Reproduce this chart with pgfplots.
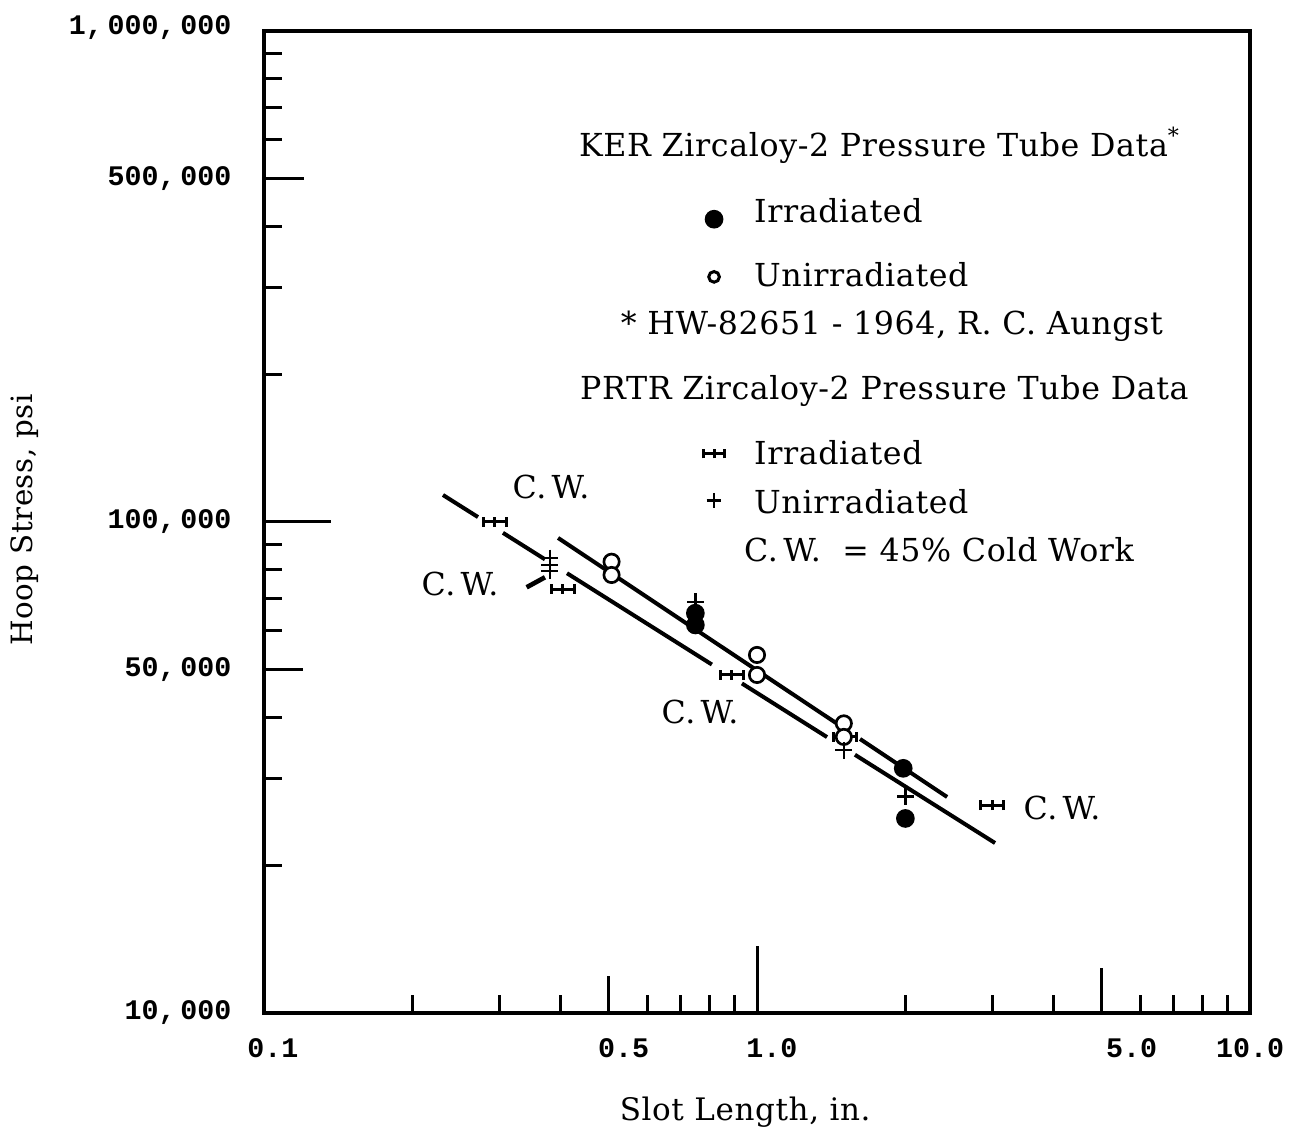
\documentclass[border=0pt]{standalone}
\usepackage{fontspec}
\setmainfont[LetterSpace=2]{DejaVu Serif}
\newfontfamily\tickfont{Liberation Mono}
\usepackage{pgfplots}
\pgfplotsset{compat=1.18}
\usetikzlibrary{calc}

% irradiated PRTR symbol: bar with three short ticks
\pgfdeclareplotmark{hh}{%
  \pgfpathmoveto{\pgfqpoint{-\pgfplotmarksize}{0pt}}%
  \pgfpathlineto{\pgfqpoint{\pgfplotmarksize}{0pt}}%
  \pgfpathmoveto{\pgfqpoint{-\pgfplotmarksize}{-0.42\pgfplotmarksize}}%
  \pgfpathlineto{\pgfqpoint{-\pgfplotmarksize}{0.42\pgfplotmarksize}}%
  \pgfpathmoveto{\pgfqpoint{0pt}{-0.42\pgfplotmarksize}}%
  \pgfpathlineto{\pgfqpoint{0pt}{0.42\pgfplotmarksize}}%
  \pgfpathmoveto{\pgfqpoint{\pgfplotmarksize}{-0.42\pgfplotmarksize}}%
  \pgfpathlineto{\pgfqpoint{\pgfplotmarksize}{0.42\pgfplotmarksize}}%
  \pgfusepathqstroke}

% legend key: one mark, shifted down by #2, that does not change the row size
\pgfplotsset{
  key/.style 2 args={legend image code/.code={%
    \pgfpathmoveto{\pgfpointorigin}%
    \pgfpathlineto{\pgfqpoint{0.6cm}{0pt}}%
    \pgfusepath{use as bounding box}%
    \draw[overlay, black, #1] plot coordinates {(0.3cm,#2)};}},
}
\newcommand\rs[1]{\rule{0pt}{#1}}

\begin{document}
\begin{tikzpicture}
\begin{axis}[
  scale only axis, width=295.8pt, height=294.6pt,
  xmode=log, ymode=log,
  xmin=0.1, xmax=10, ymin=1e4, ymax=1e6,
  clip=false,
  axis line style={line width=1.2pt},
  tick pos=left, tick align=inside,
  major tick length=0pt, minor tick length=5.5pt,
  every tick/.style={black, line width=0.9pt},
  xtick={0.1,0.5,1,5,10},
  xticklabels={\hspace*{5.4pt}0.1,\hspace*{9pt}0.5,\hspace*{9pt}1.0,\hspace*{18pt}5.0,10.0},
  minor xtick={0.2,0.3,0.4,0.6,0.7,0.8,0.9,2,3,4,6,7,8,9},
  ytick={1e4,5e4,1e5,5e5,1e6},
  yticklabels={{\raisebox{1pt}{10,\,000}},{\raisebox{1.2pt}{50,\,000}},{\raisebox{1.8pt}{100,\,000}},{500,\,000},{\raisebox{3.3pt}{1,\,000,\,000}}},
  minor ytick={2e4,3e4,4e4,6e4,7e4,8e4,9e4,2e5,3e5,4e5,6e5,7e5,8e5,9e5},
  xticklabel style={font=\tickfont\bfseries\fontsize{8.5}{10}\selectfont, inner sep=0pt, anchor=north, yshift=-7.5pt},
  yticklabel style={font=\tickfont\bfseries\fontsize{8.5}{10}\selectfont, inner sep=0pt, anchor=east, xshift=-9.6pt},
  xlabel={Slot Length, in.},
  ylabel={Hoop Stress, psi},
  xlabel style={font=\fontsize{9.3}{11}\selectfont, at={(axis description cs:0.488,-0.1008)}, anchor=center},
  ylabel style={font=\fontsize{8.8}{10}\selectfont, at={(axis description cs:-0.2424,0.502)}, anchor=center},
  legend cell align=left,
  legend style={draw=none, fill=none, at={(axis description cs:0.4276,0.9066)}, anchor=north west,
    inner sep=0pt, outer sep=0pt, row sep=0pt, column sep=3.5pt, nodes={inner sep=0pt},
    font=\fontsize{9.5}{11}\selectfont},
]
\coordinate (SW) at (rel axis cs:0,0);
\coordinate (NE) at (rel axis cs:1,1);

% long ticks
\draw[line width=0.9pt] (axis cs:0.5,1e4) -- ++(0pt,11pt);
\draw[line width=0.9pt] (axis cs:1,1e4) -- ++(0pt,20pt);
\draw[line width=0.9pt] (axis cs:5,1e4) -- ++(0pt,13.5pt);
\draw[line width=0.9pt] (axis cs:0.1,5e4) -- ++(11.7pt,0pt);
\draw[line width=0.9pt] (axis cs:0.1,1e5) -- ++(20pt,0pt);
\draw[line width=0.9pt] (axis cs:0.1,5e5) -- ++(12pt,0pt);

% fitted lines
\addplot[black, line width=1.2pt, no marks, unbounded coords=jump, forget plot] coordinates {
  (0.395,92800) (1.453,38850) (1.5,nan) (1.618,36150) (2.43,27540)};
\addplot[black, line width=1.2pt, no marks, unbounded coords=jump, forget plot] coordinates {
  (0.2307,113500) (0.2717,102330) (0.29,nan) (0.3053,95040) (0.3715,83930) (0.39,nan)
  (0.4117,78650) (0.810,51250) (0.87,nan) (0.932,46900) (1.387,36470) (1.5,nan)
  (1.580,33570) (3.04,22190)};
\addplot[black, line width=1.4pt, no marks, forget plot] coordinates {(0.341,73620) (0.3715,77170)};

% PRTR irradiated
\addplot[only marks, mark=hh, mark size=3.45pt, line width=0.9pt, forget plot] coordinates {
  (0.294,100100) (0.404,73000) (0.889,48800) (1.505,36500) (3.0,26500)};
% KER unirradiated
\addplot[only marks, mark=*, mark size=2.3pt, mark options={fill=white, draw=black, line width=0.8pt}, forget plot] coordinates {
  (0.507,83000) (0.507,78000) (1.0,53600) (1.0,48800) (1.5,38900) (1.5,36500)};
% KER irradiated
\addplot[only marks, mark=*, mark size=2.6pt, black, forget plot] coordinates {
  (0.75,65200) (0.75,61700) (1.98,31500) (2.0,24900)};
% PRTR unirradiated
\addplot[only marks, mark=+, mark size=2.5pt, line width=0.7pt, black, forget plot] coordinates {
  (0.38,84500) (0.38,81700) (0.38,79500) (0.75,68800) (1.5,34300) (2.0,27600)};

\node[font=\fontsize{9.5}{11}\selectfont] at (rel axis cs:0.2911,0.5356) {C.\,W.};
\node[font=\fontsize{9.5}{11}\selectfont] at (rel axis cs:0.1988,0.4369) {C.\,W.};
\node[font=\fontsize{9.5}{11}\selectfont] at (rel axis cs:0.4422,0.3065) {C.\,W.};
\node[font=\fontsize{9.5}{11}\selectfont] at (rel axis cs:0.8093,0.2088) {C.\,W.};

\addlegendimage{empty legend}
\addlegendentry{\hspace*{-52.5pt}\rs{10pt}KER Zircaloy-2 Pressure Tube Data\textsuperscript{*}}
\addlegendimage{key={mark=*, mark size=2.6pt}{-7.55pt}}
\addlegendentry{\rs{18.3pt}Irradiated}
\addlegendimage{key={mark=o, mark size=1.6pt, line width=0.9pt}{-5.25pt}}
\addlegendentry{\rs{17.9pt}Unirradiated}
\addlegendimage{empty legend}
\addlegendentry{\hspace*{-40pt}\rs{12.7pt}* HW-82651 - 1964, R. C. Aungst}
\addlegendimage{empty legend}
\addlegendentry{\hspace*{-52.2pt}\rs{18pt}PRTR Zircaloy-2 Pressure Tube Data}
\addlegendimage{key={mark=hh, mark size=3.2pt, line width=0.9pt}{-5.1pt}}
\addlegendentry{\rs{18.2pt}Irradiated}
\addlegendimage{key={mark=+, mark size=2.2pt, line width=0.8pt}{-1.8pt}}
\addlegendentry{\rs{13.2pt}Unirradiated}
\addlegendimage{empty legend}
\addlegendentry{\hspace*{-3pt}\rs{12.8pt}C.\,W. \ = 45\% Cold Work}
\end{axis}
\pgfresetboundingbox
\path ($(SW)+(-79.2pt,-36.3pt)$) rectangle ($(NE)+(11.7pt,9.3pt)$);
\end{tikzpicture}
\end{document}
